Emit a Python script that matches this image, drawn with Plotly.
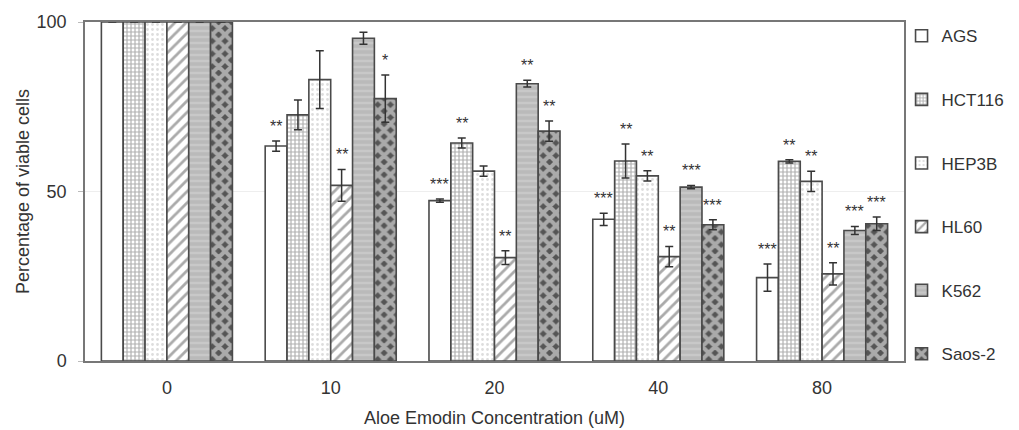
import plotly.graph_objects as go

concentrations = ["0", "10", "20", "40", "80"]
cell_lines = ["AGS", "HCT116", "HEP3B", "HL60", "K562", "Saos-2"]

ags = [100, 63.4, 47.3, 41.8, 24.6]
hct116 = [100, 72.6, 64.3, 59.0, 58.9]
hep3b = [100, 83.0, 56.0, 54.6, 53.0]
hl60 = [100, 51.8, 30.5, 30.8, 25.7]
k562 = [100, 95.2, 81.8, 51.3, 38.5]
saos2 = [100, 77.4, 67.8, 40.2, 40.5]

ags_err = [0, 1.5, 0.5, 1.8, 4.0]
hct116_err = [0, 4.4, 1.5, 5.0, 0.5]
hep3b_err = [0, 8.5, 1.5, 1.5, 3.0]
hl60_err = [0, 4.7, 2.0, 3.0, 3.3]
k562_err = [0, 1.8, 1.0, 0.5, 1.2]
saos2_err = [0, 7.0, 3.0, 1.5, 2.0]

ags_sig = ["", "**", "***", "***", "***"]
hct116_sig = ["", "", "**", "**", "**"]
hep3b_sig = ["", "", "", "**", "**"]
hl60_sig = ["", "**", "**", "**", "**"]
k562_sig = ["", "", "**", "***", "***"]
saos2_sig = ["", "*", "**", "***", "***"]

values = [ags, hct116, hep3b, hl60, k562, saos2]
errors = [ags_err, hct116_err, hep3b_err, hl60_err, k562_err, saos2_err]
sigs = [ags_sig, hct116_sig, hep3b_sig, hl60_sig, k562_sig, saos2_sig]

styles = [
    dict(bgcolor="white", shape="", fgcolor="#555555", size=8, solidity=0.3),
    dict(bgcolor="white", shape="+", fgcolor="#606060", size=4, solidity=0.5),
    dict(bgcolor="white", shape=".", fgcolor="#bbbbbb", size=5, solidity=0.25),
    dict(bgcolor="white", shape="/", fgcolor="#555555", size=8, solidity=0.35),
    dict(bgcolor="#bababa", shape="-", fgcolor="#d6d6d6", size=6, solidity=0.4),
    dict(bgcolor="#555555", shape="x", fgcolor="white", size=9, solidity=0.7),
]

xpos = list(range(len(concentrations)))
fig = go.Figure()
for i, name in enumerate(cell_lines):
    st = styles[i]
    fig.add_trace(go.Bar(
        x=xpos, y=values[i], name=name, legendgroup=name,
        marker=dict(color=st["bgcolor"], line=dict(color="#4a4a4a", width=1.6),
                    pattern=dict(shape=st["shape"], fgcolor=st["fgcolor"], bgcolor=st["bgcolor"],
                                 size=st["size"], solidity=st["solidity"], fillmode="overlay")),
        error_y=dict(type="data", array=errors[i], visible=True, color="#333333",
                     thickness=1.5, width=4),
    ))

n = len(cell_lines)
group_w = 0.8
bw = group_w / n
annotations = []
for i in range(n):
    for j, c in enumerate(xpos):
        if sigs[i][j]:
            annotations.append(dict(
                x=c - group_w / 2 + bw * (i + 0.5), y=values[i][j] + errors[i][j],
                xref="x", yref="y", text=sigs[i][j], showarrow=False,
                yanchor="bottom", yshift=4, font=dict(size=16, color="#333333", family="Liberation Sans"),
            ))

fig.update_layout(
    width=1011, height=422,
    barmode="group", bargap=0.2, bargroupgap=0,
    plot_bgcolor="white", paper_bgcolor="white",
    margin=dict(l=77, r=115, t=14, b=69, autoexpand=False),
    font=dict(family="Liberation Sans", size=17, color="#333333"),
    legend=dict(x=0.997, xanchor="left", y=1.011, yanchor="top", tracegroupgap=38.5,
                maxheight=1.0,
                font=dict(size=17, color="#333333"), bgcolor="rgba(0,0,0,0)"),
    annotations=annotations,
)
fig.update_xaxes(
    tickmode="array", tickvals=xpos, ticktext=concentrations, range=[-0.5, len(xpos) - 0.5],
    showline=True, linecolor="#777777", linewidth=1.5, mirror=True, ticks="",
    ticklabelstandoff=10, automargin=False,
    title=dict(text="Aloe Emodin Concentration (uM)", standoff=14, font=dict(size=18)),
    tickfont=dict(size=18),
)
fig.update_yaxes(
    range=[0, 100], tickvals=[0, 50, 100], showgrid=True, gridcolor="#eeeeee", gridwidth=1,
    showline=True, linecolor="#777777", linewidth=1.5, mirror=True, ticks="outside", ticklen=5,
    tickcolor="#bbbbbb", zeroline=False, automargin=False, ticklabelstandoff=8,
    title=dict(text="Percentage of viable cells", standoff=2, font=dict(size=18)),
    tickfont=dict(size=18),
)
fig.write_html("out.html")
